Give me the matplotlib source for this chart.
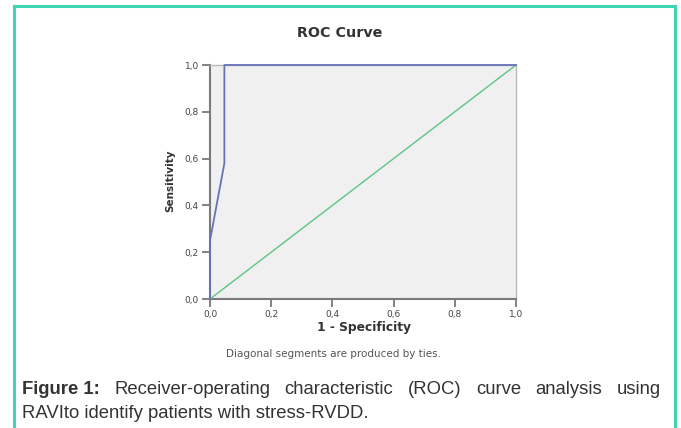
import matplotlib
matplotlib.use("Agg")
import matplotlib.pyplot as plt
from matplotlib.lines import Line2D

# Data
fpr = [0.0, 0.0, 0.047, 0.047, 1.0]
tpr = [0.0, 0.25, 0.58, 1.0, 1.0]
diag_x = [0.0, 1.0]
diag_y = [0.0, 1.0]
ticks = [0.0, 0.2, 0.4, 0.6, 0.8, 1.0]
tick_labels = ["0,0", "0,2", "0,4", "0,6", "0,8", "1,0"]

W, H = 681, 428
fig = plt.figure(figsize=(W / 100, H / 100), dpi=100)
fig.patch.set_facecolor("white")

# teal border (left, top, right)
teal = "#3fd4b4"
fig.add_artist(Line2D([14 / W, 14 / W], [0, 1 - 6 / H], color=teal, lw=2.2, transform=fig.transFigure))
fig.add_artist(Line2D([14 / W, 675 / W], [1 - 6 / H, 1 - 6 / H], color=teal, lw=2.2, transform=fig.transFigure))
fig.add_artist(Line2D([675 / W, 675 / W], [0, 1 - 6 / H], color=teal, lw=2.2, transform=fig.transFigure))

ax = fig.add_axes([210 / W, 1 - 299 / H, 306 / W, 234 / H])
ax.set_facecolor("#f0f0f0")
ax.plot(diag_x, diag_y, color="#5cc484", lw=1.0, clip_on=False, zorder=3)
ax.plot(fpr, tpr, color="#6673b8", lw=1.3, clip_on=False, zorder=4)
ax.set_xlim(0, 1)
ax.set_ylim(0, 1)
ax.set_xticks(ticks)
ax.set_xticklabels(tick_labels)
ax.set_yticks(ticks)
ax.set_yticklabels(tick_labels)
for s in ["top", "right"]:
    ax.spines[s].set_color("#b8b8b8")
    ax.spines[s].set_linewidth(1.0)
for s in ["left", "bottom"]:
    ax.spines[s].set_color("#7a7a7a")
    ax.spines[s].set_linewidth(1.5)
ax.tick_params(direction="out", length=6, width=1.3, color="#7a7a7a",
               labelsize=6.5, labelcolor="#444444", pad=2)

fig.text(340 / W, 1 - 33 / H, "ROC Curve", ha="center", va="center",
         fontsize=10.3, fontweight="bold", color="#333333")
fig.text(364 / W, 1 - 328 / H, "1 - Specificity", ha="center", va="center",
         fontsize=8.8, fontweight="bold", color="#333333")
fig.text(170 / W, 1 - 181 / H, "Sensitivity", ha="center", va="center",
         fontsize=7.5, fontweight="bold", color="#333333", rotation=90)
fig.text(333 / W, 1 - 354 / H, "Diagonal segments are produced by ties.",
         ha="center", va="center", fontsize=7.5, color="#555555")

# Caption with justified first line
cap_font = dict(family="Liberation Sans", fontsize=13.3, color="#333333")
words = ["Figure 1:", "Receiver-operating", "characteristic", "(ROC)", "curve", "analysis", "using"]
renderer = fig.canvas.get_renderer()
texts = []
for i, w in enumerate(words):
    t = fig.text(0, 1 - 394.5 / H, w, ha="left", va="baseline",
                 fontweight="bold" if i == 0 else "normal", **cap_font)
    texts.append(t)
widths = [t.get_window_extent(renderer).width for t in texts]
x0, x1 = 22, 661
gap = (x1 - x0 - sum(widths)) / (len(words) - 1)
x = x0
for t, wdt in zip(texts, widths):
    t.set_x(x / W)
    x += wdt + gap
fig.text(x0 / W, 1 - 417.5 / H, "RAVIto identify patients with stress-RVDD.",
         ha="left", va="baseline", **cap_font)

fig.savefig("out.png", dpi=100)
